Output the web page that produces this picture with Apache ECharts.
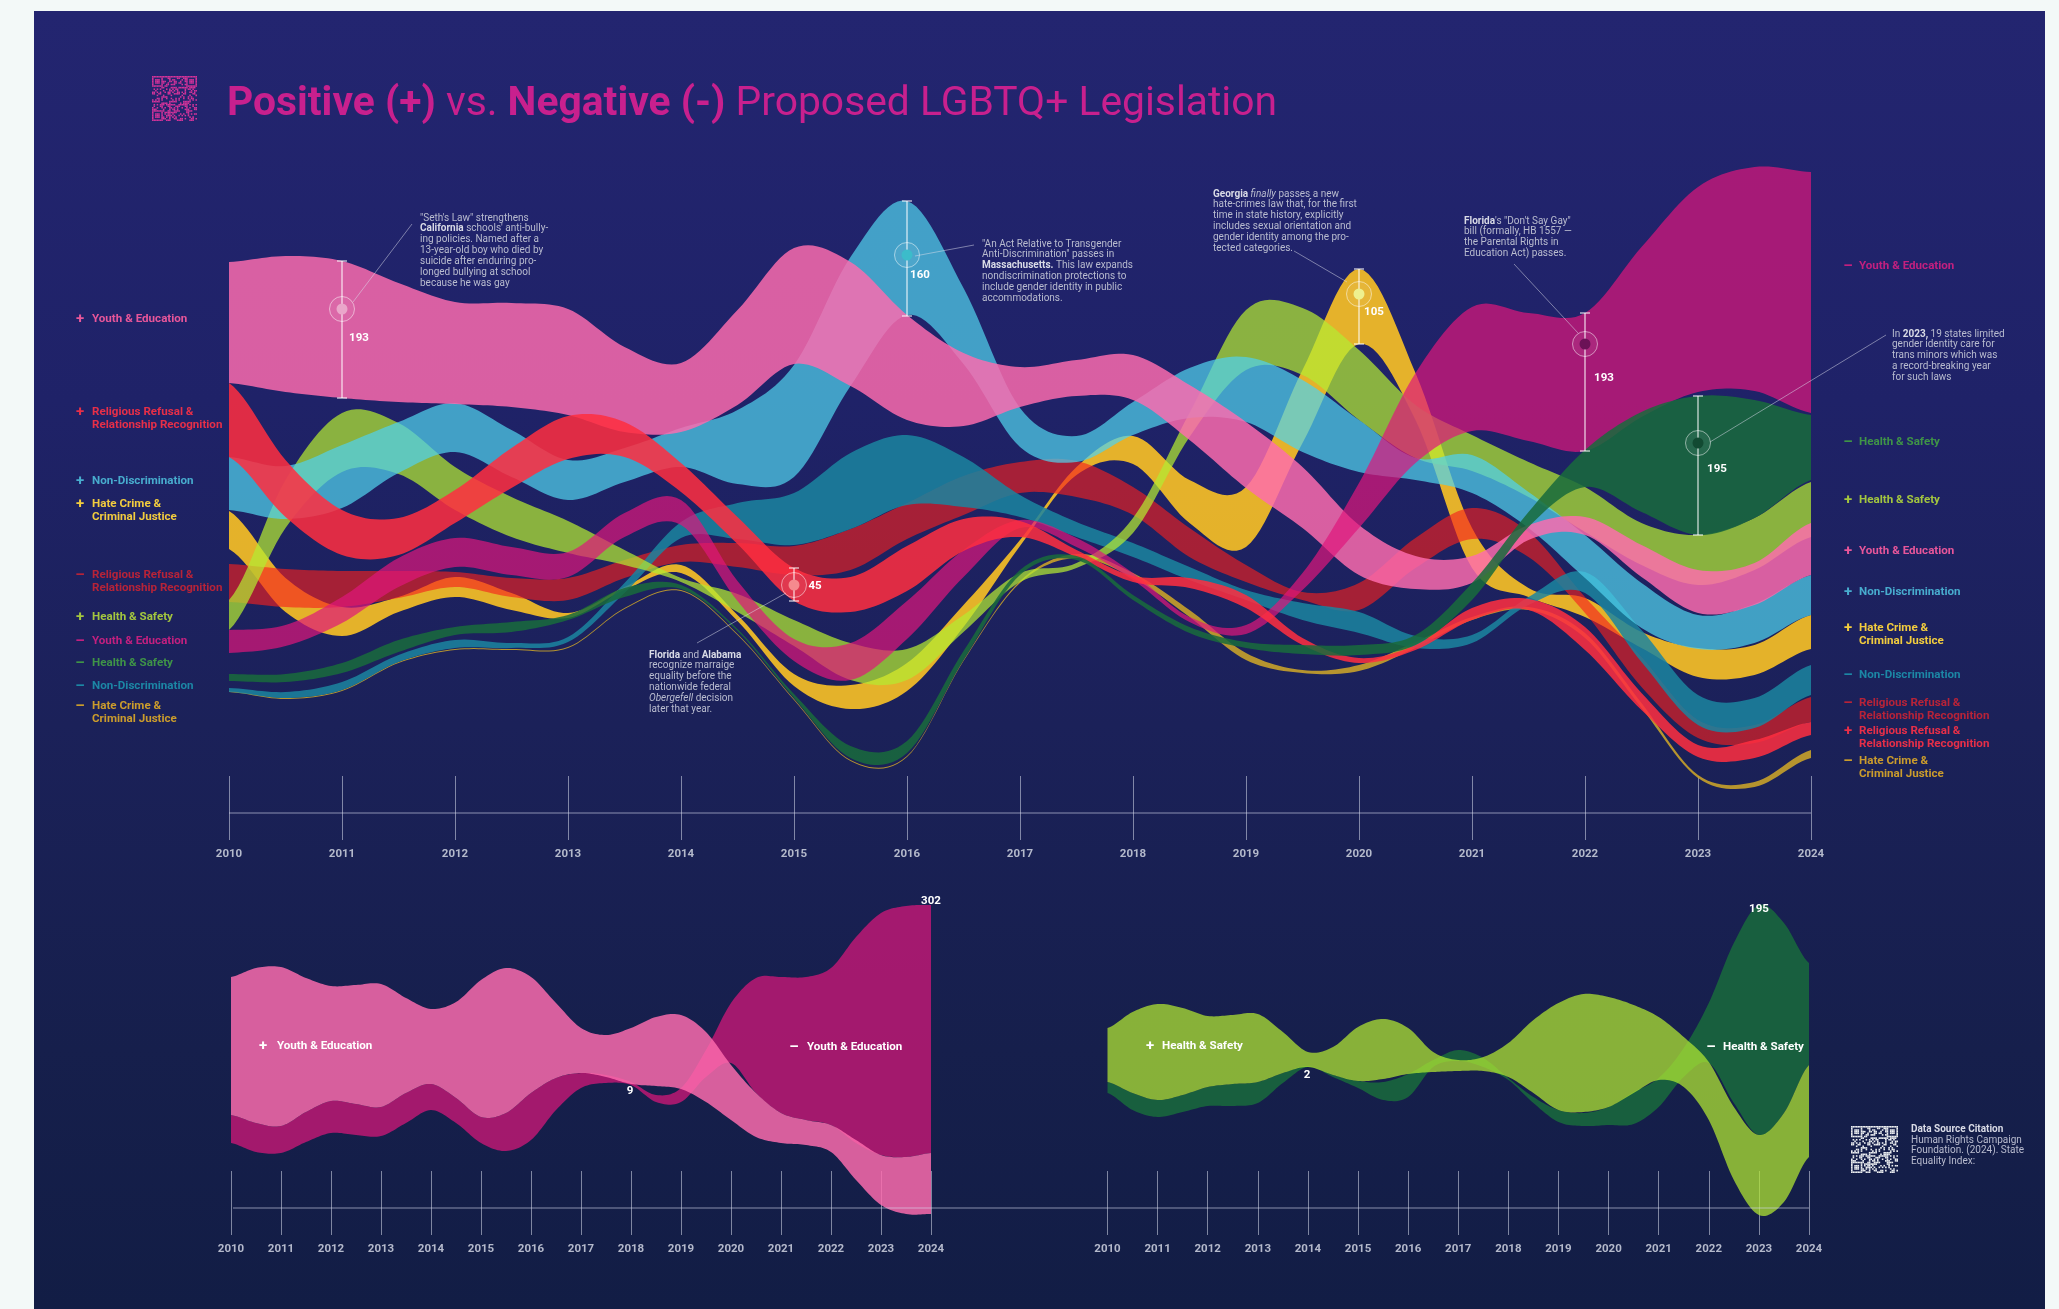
<!DOCTYPE html>
<html lang="en">
  <head>
    <meta charset="UTF-8" />
    <title>Positive vs. Negative Proposed LGBTQ+ Legislation</title>
    <script src="https://cdn.jsdelivr.net/npm/echarts@6/dist/echarts.min.js"></script>
    <style>
      html, body { margin: 0; padding: 0; background: #f3f9f8; }
      #panel {
        position: absolute; left: 34px; top: 11px; width: 2011px; height: 1298px;
        background: linear-gradient(#232570 0%, #1f2268 30%, #1b2159 55%, #161f4c 80%, #121d45 100%);
      }
      #main { position: absolute; left: 0; top: 0; width: 2059px; height: 1309px; }
    </style>
  </head>
  <body>
    <div id="panel"></div>
    <div id="main"></div>
    <script>
      // half-year steps so the humps that sit between two years survive
      const periods = ['2010','2010.5','2011','2011.5','2012','2012.5','2013','2013.5','2014','2014.5','2015','2015.5','2016','2016.5','2017','2017.5','2018','2018.5','2019','2019.5','2020','2020.5','2021','2021.5','2022','2022.5','2023','2023.5','2024'];

      // big stream: upper and lower edge of every band
      const youthPosUpper = [538,544,539,517,498,497,491,453,437,490,552,538,485,447,433,440,445,415,378,333,275,244,244,275,283,255,230,237,277];
      const youthPosLower = [417,408,402,398,396,393,385,368,368,395,436,414,380,374,393,404,400,360,312,272,225,211,217,260,265,223,187,195,225];
      const nonDiscPosUpper = [343,334,355,378,397,370,340,352,372,390,435,543,599,512,392,364,398,432,443,420,380,342,345,308,265,217,185,196,225];
      const nonDiscPosLower = [290,281,292,327,348,323,300,318,333,316,323,414,485,436,353,338,365,382,378,348,328,320,307,272,222,172,151,157,185];
      const healthPosUpper = [200,320,387,377,333,303,279,250,222,206,180,157,151,185,227,237,282,387,490,492,450,395,365,338,313,277,265,282,318];
      const healthPosLower = [170,272,328,326,290,263,247,235,218,188,154,120,120,168,218,232,267,363,430,425,380,342,329,303,268,235,215,230,263];
      const religionPosUpper = [417,340,290,282,310,352,384,378,337,283,232,223,254,281,279,250,224,222,205,162,142,155,192,201,173,107,55,60,78];
      const religionPosLower = [343,283,245,245,277,312,341,343,308,256,199,188,209,249,263,243,218,212,192,155,137,150,180,190,150,90,43,42,65];
      const hatePosUpper = [289,222,193,203,223,207,187,213,235,185,126,115,137,195,260,333,364,320,313,430,531,427,272,212,202,168,152,155,185];
      const hatePosLower = [251,188,164,188,203,190,182,210,227,179,114,91,109,173,254,325,336,277,253,357,456,380,232,203,183,152,123,125,151];
      const youthNegUpper = [170,175,203,242,262,253,248,287,300,219,161,157,199,250,280,262,227,183,175,227,317,427,493,487,487,553,613,633,628];
      const youthNegLower = [147,154,177,213,233,225,223,263,275,199,139,120,161,223,272,253,220,178,166,210,272,337,369,359,349,383,408,409,387];
      const religionNegUpper = [236,231,229,229,228,222,222,240,255,257,254,271,297,324,338,339,313,272,235,208,217,262,292,268,203,143,80,75,103];
      const religionNegLower = [198,193,193,202,213,203,200,222,238,233,225,230,261,285,307,303,285,243,218,200,190,232,261,243,187,113,62,57,78];
      const nonDiscNegUpper = [112,108,118,145,160,157,163,217,278,297,307,347,365,343,305,278,257,233,210,197,188,164,165,203,228,170,105,102,135];
      const nonDiscNegLower = [108,102,110,138,152,152,158,207,262,261,255,271,295,293,283,263,243,220,200,180,167,152,157,195,207,138,75,72,105];
      const healthNegUpper = [126,126,137,160,173,178,185,212,215,171,106,54,59,149,230,244,205,173,158,155,155,165,217,288,350,388,404,400,385];
      const healthNegLower = [119,118,127,148,165,168,180,203,211,169,102,42,47,140,225,240,200,167,152,146,145,155,200,273,313,288,265,282,320];
      const hateNegUpper = [109,102,110,138,151,151,153,192,210,166,101,40,44,140,219,246,227,190,147,130,135,158,183,193,167,97,25,18,50];
      const hateNegLower = [108,101,109,137,150,150,152,191,209,165,100,39,43,139,217,242,222,183,140,127,129,152,180,190,162,92,22,13,42];

      // small multiple, youth & education
      const soloYouthPosUpper = [323,332,333,322,314,315,316,302,291,298,320,332,323,297,272,265,272,283,285,268,235,207,187,180,175,160,145,143,147];
      const soloYouthPosLower = [185,177,174,188,199,196,193,207,216,202,183,187,207,222,227,223,216,214,211,198,180,163,157,155,148,120,95,86,86];
      const soloYouthNegUpper = [185,177,174,188,199,196,193,207,216,202,183,187,207,222,227,225,218,205,212,250,297,322,323,323,332,363,387,394,395];
      const soloYouthNegLower = [157,148,147,158,167,165,164,177,190,177,157,149,160,190,212,217,215,198,198,223,237,207,187,180,175,157,145,143,147];

      // small multiple, health & safety
      const soloHealthPosUpper = [272,288,296,292,284,285,286,268,248,253,273,281,272,248,240,243,257,280,297,306,303,295,283,263,238,193,165,187,235];
      const soloHealthPosLower = [218,207,200,205,213,216,218,227,233,225,219,221,226,228,229,229,223,207,190,188,193,207,220,213,180,120,85,98,143];
      const soloHealthNegUpper = [218,207,200,205,213,216,218,227,234,225,219,218,226,240,250,242,222,203,190,187,193,208,222,252,297,357,395,377,337];
      const soloHealthNegLower = [207,190,183,188,194,194,197,217,233,223,212,200,203,233,239,233,220,197,178,174,175,176,193,223,237,197,165,187,235];

      // the six call-outs on the big stream
      const calloutPeriods = ['2011','2015','2016','2020','2022','2023'];
      const calloutCounts = [193,45,160,105,193,195];
      const calloutUpper = [539,232,599,531,487,404];
      const calloutLower = [402,199,484,456,349,265];
      const calloutRing = [491,215,545,506,456,357];

      const PINK = 'rgba(255,108,174,0.83)';
      const BLUE = 'rgba(80,209,235,0.72)';
      const GREEN = 'rgba(180,234,50,0.72)';
      const RED = 'rgba(255,46,64,0.86)';
      const YELLOW = 'rgba(251,194,37,0.9)';
      const MAGENTA = 'rgba(224,23,124,0.7)';
      const DARK_RED = 'rgba(245,32,30,0.63)';
      const DARK_BLUE = 'rgba(27,133,160,0.85)';
      const DARK_GREEN = 'rgba(25,107,60,0.85)';
      const GOLD = 'rgba(200,161,42,0.9)';

      const ringColors = ['#eaa6ca', '#f58a8e', '#3cbcca', '#eef08e', '#6b1257', '#124a32'];
      const labelShift = [[17, 29], [21, 1], [13, 20], [15, 18], [19, 34], [19, 26]];
      const TICK = 'rgba(215,220,235,0.55)';
      const FONT = 'Roboto, sans-serif';

      // cubic through the edge points, the stock smooth line flattens every hump
      function spline(pts) {
        let out = [];
        for (let i = 0; i < pts.length - 1; i++) {
          let p0 = pts[Math.max(i - 1, 0)], p1 = pts[i], p2 = pts[i + 1], p3 = pts[Math.min(i + 2, pts.length - 1)];
          for (let s = 0; s < 12; s++) {
            let t = s / 12, t2 = t * t, t3 = t2 * t;
            let m1 = (p2[1] - p0[1]) / 2, m2 = (p3[1] - p1[1]) / 2;
            out.push([
              p1[0] + (p2[0] - p1[0]) * t,
              (2 * t3 - 3 * t2 + 1) * p1[1] + (t3 - 2 * t2 + t) * m1 + (-2 * t3 + 3 * t2) * p2[1] + (t3 - t2) * m2
            ]);
          }
        }
        out.push(pts[pts.length - 1]);
        return out;
      }

      function band(name, upper, lower, color, axis) {
        return {
          type: 'custom', name: name, xAxisIndex: axis, yAxisIndex: axis, silent: true, animation: false,
          data: upper.map((v, i) => [i, v, lower[i]]),
          encode: { x: 0, y: [1, 2] },
          renderItem: function (params, api) {
            if (params.dataIndex !== 0) return null;
            let top = spline(upper.map((v, i) => api.coord([i, v])));
            let bottom = spline(lower.map((v, i) => api.coord([i, v])));
            return { type: 'polygon', shape: { points: top.concat(bottom.reverse()) }, style: { fill: color } };
          }
        };
      }

      function xAxis(grid, margin) {
        return {
          type: 'category', gridIndex: grid, data: periods, boundaryGap: false,
          axisLine: { show: false, onZero: false },
          axisTick: { show: true, inside: true, length: margin, interval: 1, alignWithLabel: true, lineStyle: { color: TICK, width: 1 } },
          axisLabel: { interval: 1, margin: 8, color: '#b4b9cb', fontFamily: FONT, fontWeight: 'bold', fontSize: 11.5 },
          splitLine: { show: false }
        };
      }

      function text(x, y, str, color, font, rich, align) {
        return {
          type: 'text', z: 20, silent: true,
          style: { x: x, y: y, text: str, fill: color, font: font, rich: rich, align: align || 'left', verticalAlign: 'middle' }
        };
      }

      function line(x1, y1, x2, y2, color, width) {
        return { type: 'line', z: 15, silent: true, shape: { x1, y1, x2, y2 }, style: { stroke: color, lineWidth: width } };
      }

      // notes are split in lines by hand like the poster, {b|..} bold, {i|..} italic
      const noteRich = {
        b: { fontWeight: 'bold', fill: '#d9dbe6', color: '#d9dbe6', fontFamily: FONT, fontSize: 10 },
        i: { fontStyle: 'italic', color: '#c3c6d6', fontFamily: FONT, fontSize: 10 }
      };
      function note(x, y, lines) {
        return lines.map((l, i) => text(x, y + i * 10.9, l, '#b9bccf', '10px ' + FONT, noteRich));
      }

      function legend(signX, textX, y, sign, lines, color) {
        let out = [text(signX, y, sign, color, 'bold 15px ' + FONT, null, 'center')];
        lines.forEach((l, i) => out.push(text(textX, y + i * 12.6, l, color, 'bold 11.6px ' + FONT)));
        return out;
      }

      // decorative QR squares, no data in them
      function qrCode(x, y, size, color) {
        let n = 29, c = size / n, out = [];
        let finder = (i, j) => {
          let inBox = (a, b) => i >= a && i < a + 7 && j >= b && j < b + 7;
          let cornerA = inBox(0, 0), cornerB = inBox(n - 7, 0), cornerC = inBox(0, n - 7);
          if (!cornerA && !cornerB && !cornerC) return null;
          let a = cornerB ? n - 7 : 0, b = cornerC ? n - 7 : 0;
          let u = i - a, v = j - b;
          return u === 0 || u === 6 || v === 0 || v === 6 || (u >= 2 && u <= 4 && v >= 2 && v <= 4);
        };
        for (let i = 0; i < n; i++) {
          for (let j = 0; j < n; j++) {
            let f = finder(i, j);
            let on = f === null ? ((i * 7 + j * 13 + (i * j) % 11 + (i ^ j) * 3) % 5 < 2) : f;
            if (on) out.push({ type: 'rect', z: 20, silent: true, shape: { x: x + i * c, y: y + j * c, width: c, height: c }, style: { fill: color } });
          }
        }
        return out;
      }

      const LEGEND_PINK = '#e8569a';
      const LEGEND_RED = '#e72f48';
      const LEGEND_BLUE = '#48acce';
      const LEGEND_YELLOW = '#f2cc3e';
      const LEGEND_DARKRED = '#b72338';
      const LEGEND_GREEN = '#a3c63f';
      const LEGEND_MAGENTA = '#c3207f';
      const LEGEND_DARKGREEN = '#3f9447';
      const LEGEND_DARKBLUE = '#1c87a5';
      const LEGEND_GOLD = '#cb9c2c';

      let graphics = [].concat(
        qrCode(152, 76, 45, '#d3339a'),
        qrCode(1851, 1126, 47, '#e9ecef'),
        [
          line(229, 813, 1811, 813, 'rgba(215,220,240,0.3)', 2),
          line(233, 1208, 1809, 1208, 'rgba(215,220,240,0.3)', 2),
          line(353, 302, 412, 224, 'rgba(220,222,235,0.5)', 1),
          line(915, 256, 974, 245, 'rgba(220,222,235,0.5)', 1),
          line(1294, 251, 1347, 282, 'rgba(220,222,235,0.5)', 1),
          line(1514, 264, 1578, 333, 'rgba(220,222,235,0.5)', 1),
          line(1886, 335, 1710, 442, 'rgba(220,222,235,0.5)', 1),
          line(786, 593, 697, 643, 'rgba(220,222,235,0.5)', 1)
        ],
        note(420, 218, ['"Seth\'s Law" strengthens', '{b|California} schools\' anti-bully-', 'ing policies. Named after a', '13-year-old boy who died by', 'suicide after enduring pro-', 'longed bullying at school', 'because he was gay']),
        note(982, 244, ['"An Act Relative to Transgender', 'Anti-Discrimination" passes in', '{b|Massachusetts.} This law expands', 'nondiscrimination protections to', 'include gender identity in public', 'accommodations.']),
        note(1213, 194, ['{b|Georgia} {i|finally} passes a new', 'hate-crimes law that, for the first', 'time in state history, explicitly', 'includes sexual orientation and', 'gender identity among the pro-', 'tected categories.']),
        note(1464, 221, ['{b|Florida}\'s "Don\'t Say Gay"', 'bill (formally, HB 1557 —', 'the Parental Rights in', 'Education Act) passes.']),
        note(1892, 334, ['In {b|2023,} 19 states limited', 'gender identity care for', 'trans minors which was', 'a record-breaking year', 'for such laws']),
        note(649, 655, ['{b|Florida} and {b|Alabama}', 'recognize marraige', 'equality before the', 'nationwide federal', '{i|Obergefell} decision', 'later that year.']),
        note(1911, 1140, ['Human Rights Campaign', 'Foundation. (2024). State', 'Equality Index:']),
        [text(1911, 1129, 'Data Source Citation', '#d9dbe6', 'bold 10px ' + FONT)],

        legend(80, 92, 319, '+', ['Youth & Education'], LEGEND_PINK),
        legend(80, 92, 412, '+', ['Religious Refusal &', 'Relationship Recognition'], LEGEND_RED),
        legend(80, 92, 481, '+', ['Non-Discrimination'], LEGEND_BLUE),
        legend(80, 92, 504, '+', ['Hate Crime &', 'Criminal Justice'], LEGEND_YELLOW),
        legend(80, 92, 575, '–', ['Religious Refusal &', 'Relationship Recognition'], LEGEND_DARKRED),
        legend(80, 92, 617, '+', ['Health & Safety'], LEGEND_GREEN),
        legend(80, 92, 641, '–', ['Youth & Education'], LEGEND_MAGENTA),
        legend(80, 92, 663, '–', ['Health & Safety'], LEGEND_DARKGREEN),
        legend(80, 92, 686, '–', ['Non-Discrimination'], LEGEND_DARKBLUE),
        legend(80, 92, 706, '–', ['Hate Crime &', 'Criminal Justice'], LEGEND_GOLD),

        legend(1848, 1859, 266, '–', ['Youth & Education'], LEGEND_MAGENTA),
        legend(1848, 1859, 442, '–', ['Health & Safety'], LEGEND_DARKGREEN),
        legend(1848, 1859, 500, '+', ['Health & Safety'], LEGEND_GREEN),
        legend(1848, 1859, 551, '+', ['Youth & Education'], LEGEND_PINK),
        legend(1848, 1859, 592, '+', ['Non-Discrimination'], LEGEND_BLUE),
        legend(1848, 1859, 628, '+', ['Hate Crime &', 'Criminal Justice'], LEGEND_YELLOW),
        legend(1848, 1859, 675, '–', ['Non-Discrimination'], LEGEND_DARKBLUE),
        legend(1848, 1859, 703, '–', ['Religious Refusal &', 'Relationship Recognition'], LEGEND_DARKRED),
        legend(1848, 1859, 731, '+', ['Religious Refusal &', 'Relationship Recognition'], LEGEND_RED),
        legend(1848, 1859, 761, '–', ['Hate Crime &', 'Criminal Justice'], LEGEND_GOLD),

        legend(263, 277, 1046, '+', ['Youth & Education'], '#ffffff'),
        legend(794, 807, 1047, '–', ['Youth & Education'], '#ffffff'),
        legend(1150, 1162, 1046, '+', ['Health & Safety'], '#ffffff'),
        legend(1711, 1723, 1047, '–', ['Health & Safety'], '#ffffff'),
        [
          text(931, 901, '302', '#ffffff', 'bold 11.5px ' + FONT, null, 'center'),
          text(630, 1091, '9', '#ffffff', 'bold 11.5px ' + FONT, null, 'center'),
          text(1759, 909, '195', '#ffffff', 'bold 11.5px ' + FONT, null, 'center'),
          text(1307, 1075, '2', '#ffffff', 'bold 11.5px ' + FONT, null, 'center')
        ]
      );

      let series = [
        band('+ Hate Crime', hatePosUpper, hatePosLower, YELLOW, 0),
        band('- Hate Crime', hateNegUpper, hateNegLower, GOLD, 0),
        band('- Religious Refusal', religionNegUpper, religionNegLower, DARK_RED, 0),
        band('- Non-Discrimination', nonDiscNegUpper, nonDiscNegLower, DARK_BLUE, 0),
        band('+ Health & Safety', healthPosUpper, healthPosLower, GREEN, 0),
        band('+ Non-Discrimination', nonDiscPosUpper, nonDiscPosLower, BLUE, 0),
        band('+ Youth & Education', youthPosUpper, youthPosLower, PINK, 0),
        band('- Youth & Education', youthNegUpper, youthNegLower, MAGENTA, 0),
        band('+ Religious Refusal', religionPosUpper, religionPosLower, RED, 0),
        band('- Health & Safety', healthNegUpper, healthNegLower, DARK_GREEN, 0),

        band('solo - Youth', soloYouthNegUpper, soloYouthNegLower, MAGENTA, 1),
        band('solo + Youth', soloYouthPosUpper, soloYouthPosLower, PINK, 1),
        band('solo - Health', soloHealthNegUpper, soloHealthNegLower, DARK_GREEN, 2),
        band('solo + Health', soloHealthPosUpper, soloHealthPosLower, GREEN, 2)
      ];

      // brackets go through the axes as well, only the ring offsets are pixels
      series.push({
        type: 'custom', xAxisIndex: 0, yAxisIndex: 0, silent: true, animation: false, z: 10, clip: false,
        data: calloutPeriods.map((p, i) => [periods.indexOf(p), calloutUpper[i], calloutLower[i], calloutRing[i], calloutCounts[i], i]),
        encode: { x: 0, y: [1, 2] },
        renderItem: function (params, api) {
          let top = api.coord([api.value(0), api.value(1)]);
          let bottom = api.coord([api.value(0), api.value(2)]);
          let ring = api.coord([api.value(0), api.value(3)]);
          let x = top[0];
          let idx = api.value(5);
          let stroke = { stroke: 'rgba(255,255,255,0.72)', lineWidth: 1.4, fill: null };
          return {
            type: 'group',
            children: [
              { type: 'line', shape: { x1: x, y1: top[1], x2: x, y2: bottom[1] }, style: stroke },
              { type: 'line', shape: { x1: x - 5, y1: top[1], x2: x + 5, y2: top[1] }, style: stroke },
              { type: 'line', shape: { x1: x - 5, y1: bottom[1], x2: x + 5, y2: bottom[1] }, style: stroke },
              { type: 'circle', shape: { cx: x, cy: ring[1], r: 12.5 }, style: { stroke: 'rgba(255,255,255,0.5)', lineWidth: 1, fill: 'rgba(255,255,255,0.06)' } },
              { type: 'circle', shape: { cx: x, cy: ring[1], r: 5.5 }, style: { fill: ringColors[idx] } },
              {
                type: 'text',
                style: {
                  x: x + labelShift[idx][0], y: ring[1] + labelShift[idx][1],
                  text: String(api.value(4)), fill: '#ffffff', font: 'bold 11.5px ' + FONT, align: 'center', verticalAlign: 'middle'
                }
              }
            ]
          };
        }
      });

      let option = {
        animation: false,
        title: {
          left: 227, top: 84, padding: 0,
          text: '{b|Positive (+)} vs. {b|Negative (-)} Proposed LGBTQ+ Legislation',
          textStyle: {
            color: '#c8208e', fontFamily: FONT, fontSize: 40.8, fontWeight: 'normal',
            rich: { b: { color: '#c8208e', fontFamily: FONT, fontSize: 40.8, fontWeight: 'bold' } }
          }
        },
        grid: [
          { left: 229, width: 1582, top: 100, height: 740 },
          { left: 231, width: 700, top: 880, height: 355 },
          { left: 1107.5, width: 701.5, top: 880, height: 355 }
        ],
        xAxis: [xAxis(0, 64), xAxis(1, 64), xAxis(2, 64)],
        yAxis: [
          { type: 'value', gridIndex: 0, min: -40, max: 700, show: false },
          { type: 'value', gridIndex: 1, min: 65, max: 420, show: false },
          { type: 'value', gridIndex: 2, min: 65, max: 420, show: false }
        ],
        graphic: graphics,
        series: series
      };

      var myChart = echarts.init(document.getElementById('main'), null, { renderer: 'canvas' });
      myChart.setOption(option);
    </script>
  </body>
</html>
